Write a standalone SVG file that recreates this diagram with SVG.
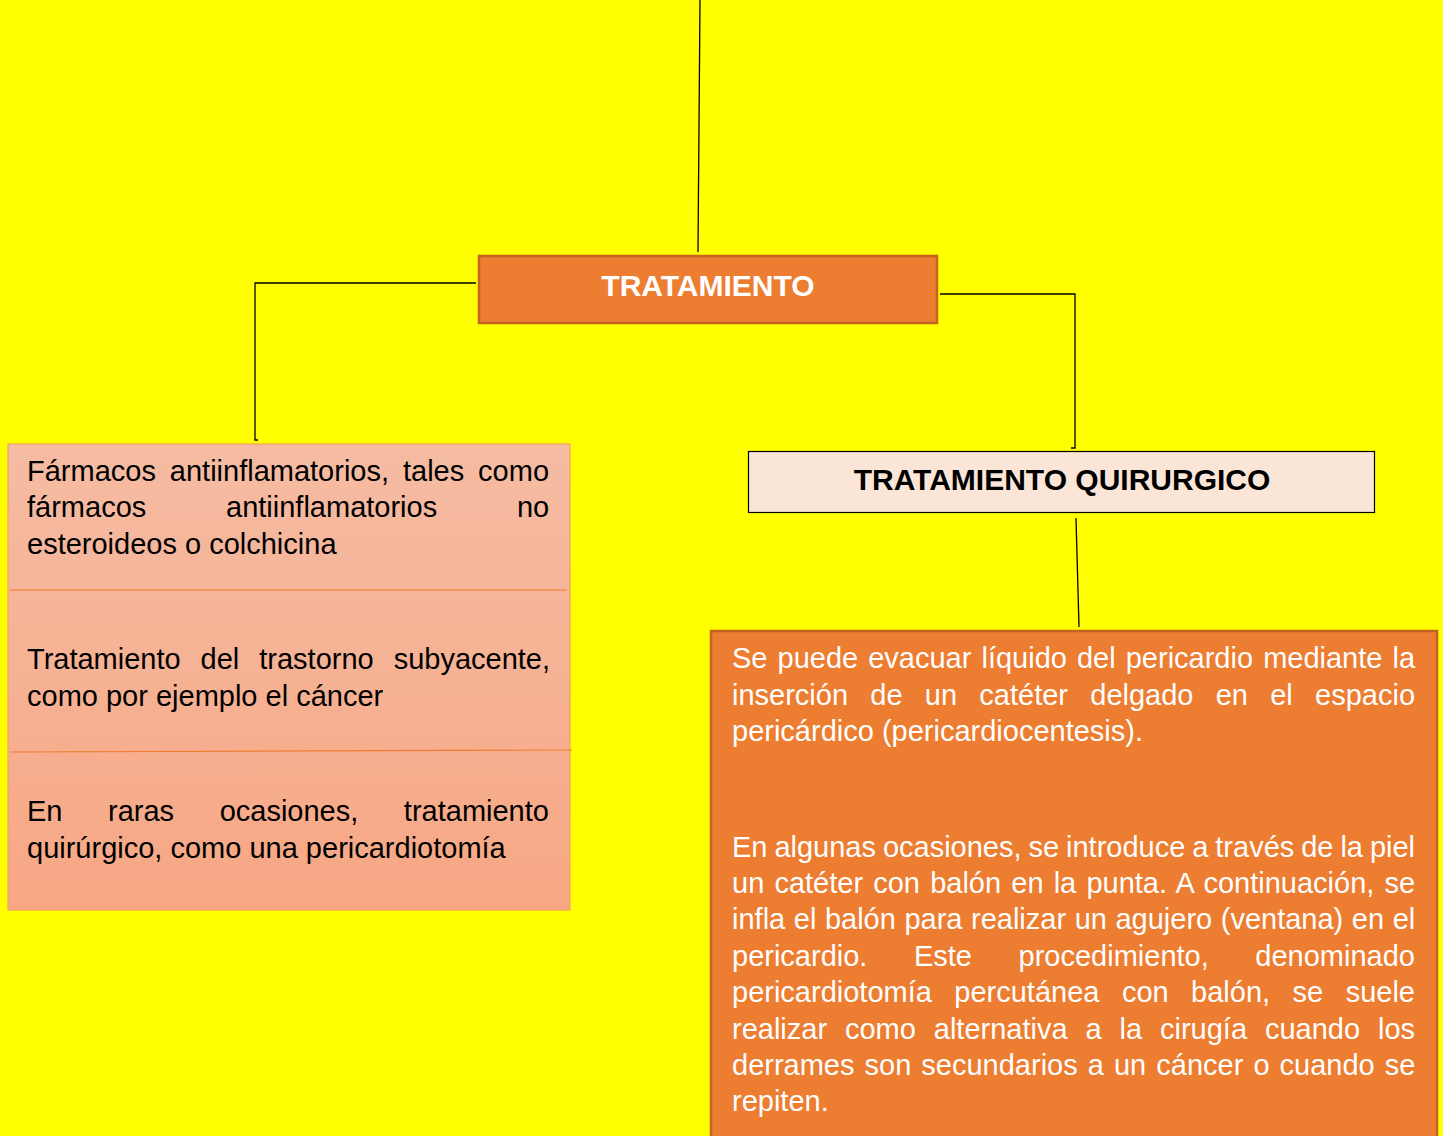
<svg xmlns="http://www.w3.org/2000/svg" width="1443" height="1136" viewBox="0 0 1443 1136">
<defs>
<linearGradient id="gl" x1="0" y1="0" x2="0" y2="1">
<stop offset="0" stop-color="#F5BCA3"/>
<stop offset="1" stop-color="#F7A784"/>
</linearGradient>
</defs>
<style>
.t{font-family:"Liberation Sans",Arial,sans-serif;font-size:29px;}
.b{fill:#000;}
.w{fill:#fff;}
.hd{font-family:"Liberation Sans",Arial,sans-serif;font-size:30px;font-weight:bold;text-anchor:middle;}
.ln{fill:none;stroke:#000;stroke-width:1.3;}
</style>
<rect width="1443" height="1136" fill="#FFFF00"/>
<g id="connectors">
<path class="ln" d="M700,0 L698,252"/>
<path class="ln" d="M476,283 H255 V440 H258"/>
<path class="ln" d="M940,294 H1075 V448 H1071"/>
<path class="ln" d="M1076,518 L1079,627"/>
</g>
<g id="tratamiento">
<rect x="479" y="256" width="458" height="67" fill="#ED7D31" stroke="#C2631F" stroke-width="2.5"/>
<text class="hd w" x="708" y="296">TRATAMIENTO</text>
</g>
<g id="quirurgico">
<rect x="748.5" y="451.5" width="626" height="61" fill="#FBE5D6" stroke="#000" stroke-width="1.2"/>
<text class="hd b" x="1062" y="490">TRATAMIENTO QUIRURGICO</text>
</g>
<g id="farmacos">
<rect x="8" y="444" width="562" height="466" fill="url(#gl)" stroke="#F4A261" stroke-width="1.2"/>
<line x1="10" y1="590" x2="567" y2="590" stroke="#ED7D31" stroke-width="1.2"/>
<line x1="10" y1="752" x2="572" y2="750" stroke="#ED7D31" stroke-width="1.2"/>
<text class="t b" x="27" y="481" word-spacing="5.85">Fármacos antiinflamatorios, tales como</text>
<text class="t b" x="27" y="517" word-spacing="71.7">fármacos antiinflamatorios no</text>
<text class="t b" x="27" y="554">esteroideos o colchicina</text>
<text class="t b" x="27" y="669" word-spacing="11.9">Tratamiento del trastorno subyacente,</text>
<text class="t b" x="27" y="706">como por ejemplo el cáncer</text>
<text class="t b" x="27" y="821" word-spacing="37.5">En raras ocasiones, tratamiento</text>
<text class="t b" x="27" y="858">quirúrgico, como una pericardiotomía</text>
</g>
<g id="pericardiocentesis">
<rect x="711" y="631" width="726" height="520" fill="#ED7D31" stroke="#C2631F" stroke-width="2.5"/>
<text class="t w" x="732" y="668" word-spacing="2">Se puede evacuar líquido del pericardio mediante la</text>
<text class="t w" x="732" y="705" word-spacing="14.2">inserción de un catéter delgado en el espacio</text>
<text class="t w" x="732" y="741">pericárdico (pericardiocentesis).</text>
<text class="t w" x="732" y="857" word-spacing="-1.13">En algunas ocasiones, se introduce a través de la piel</text>
<text class="t w" x="732" y="893" word-spacing="2.1">un catéter con balón en la punta. A continuación, se</text>
<text class="t w" x="732" y="929" word-spacing="0.5">infla el balón para realizar un agujero (ventana) en el</text>
<text class="t w" x="732" y="966" word-spacing="38.5">pericardio. Este procedimiento, denominado</text>
<text class="t w" x="732" y="1002" word-spacing="14.4">pericardiotomía percutánea con balón, se suele</text>
<text class="t w" x="732" y="1039" word-spacing="9.84">realizar como alternativa a la cirugía cuando los</text>
<text class="t w" x="732" y="1075" word-spacing="2">derrames son secundarios a un cáncer o cuando se</text>
<text class="t w" x="732" y="1111">repiten.</text>
</g>
</svg>
